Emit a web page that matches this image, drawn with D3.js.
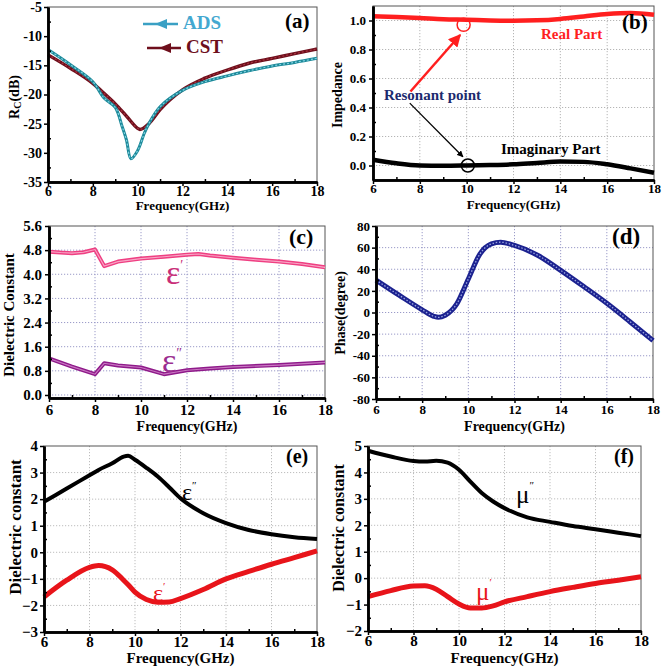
<!DOCTYPE html>
<html><head><meta charset="utf-8">
<script src="https://cdn.jsdelivr.net/npm/d3@7"></script>
<style>body{margin:0;background:#fff}svg{display:block}</style>
</head><body>
<svg id="c" width="662" height="669"></svg>
<script>
// ---------- DATA ----------
const freqTicks = [6, 8, 10, 12, 14, 16, 18];
const freqMinor = [7, 9, 11, 13, 15, 17];

// (a) Reflection coefficient
const adsFreq = [6, 7, 8, 8.5, 9, 9.3, 9.5, 9.7, 10, 10.3, 10.5, 11, 12, 13, 14, 15, 16, 17, 18];
const adsRc   = [-12.3, -14.9, -17.8, -20.6, -22.2, -25.4, -27.8, -31.0, -29.6, -26.6, -25.0, -22.1, -19.3, -17.8, -16.8, -15.9, -15.1, -14.5, -13.8];
const cstFreq = [6, 7, 8, 8.5, 9, 9.5, 10, 10.1, 10.5, 11, 12, 13, 14, 15, 16, 17, 18];
const cstRc   = [-13.2, -15.5, -18.1, -19.8, -21.6, -23.7, -25.8, -26.0, -25.0, -22.6, -19.2, -17.2, -15.8, -14.6, -13.8, -13.0, -12.2];
const ticksA = [-35, -30, -25, -20, -15, -10, -5];

// (b) Impedance
const freqB = [6, 7, 8, 9, 10, 11, 12, 13, 14, 15, 16, 17, 18];
const realZ = [1.030, 1.024, 1.017, 1.009, 1.005, 1.000, 0.998, 1.001, 1.011, 1.028, 1.045, 1.052, 1.040];
const imagZ = [0.040, 0.015, 0.000, -0.002, 0.000, 0.003, 0.008, 0.018, 0.027, 0.025, 0.008, -0.020, -0.050];
const ticksB = [0.0, 0.2, 0.4, 0.6, 0.8, 1.0];
const resonantReal = [9.87, 0.97];
const resonantImag = [10.05, 0.0];

// (c) Dielectric constant (retrieved)
const freqEpsR = [6, 6.5, 7, 7.5, 8, 8.4, 9, 10, 11, 12, 12.5, 13, 14, 15, 16, 17, 18];
const epsRealC = [4.75, 4.72, 4.70, 4.73, 4.82, 4.27, 4.42, 4.52, 4.58, 4.65, 4.67, 4.62, 4.55, 4.48, 4.42, 4.34, 4.23];
const freqEpsI = [6, 7, 8, 8.4, 9, 10, 11, 12, 13, 14, 16, 18];
const epsImagC = [1.21, 0.94, 0.69, 1.05, 0.98, 0.91, 0.69, 0.82, 0.88, 0.93, 0.99, 1.08];
const ticksC = [0.0, 0.8, 1.6, 2.4, 3.2, 4.0, 4.8, 5.6];

// (d) Phase
const freqD = [6, 7, 8, 8.5, 8.7, 9, 9.5, 10, 10.5, 11, 11.4, 12, 13, 14, 15, 16, 17, 18];
const phaseD = [30, 16, 2.5, -3.5, -4.5, -2.5, 8, 31, 54, 63.5, 65, 62, 53, 39, 24, 8.5, -8.5, -26];
const ticksD = [-80, -60, -40, -20, 0, 20, 40, 60, 80];

// (e) permittivity
const freqE = [6, 7, 8, 8.4, 9, 9.5, 9.7, 10, 10.5, 11, 11.5, 12, 13, 14, 15, 16, 17, 18];
const epsImagE = [1.90, 2.40, 2.90, 3.10, 3.35, 3.60, 3.63, 3.48, 3.18, 2.85, 2.45, 2.03, 1.47, 1.10, 0.84, 0.68, 0.57, 0.50];
const epsRealE = [-1.68, -1.05, -0.57, -0.50, -0.66, -1.05, -1.22, -1.50, -1.78, -1.88, -1.87, -1.74, -1.40, -1.00, -0.72, -0.45, -0.20, 0.05];
const ticksE = [-3, -2, -1, 0, 1, 2, 3, 4];

// (f) permeability
const freqF = [6, 7, 8, 8.5, 9, 9.5, 10, 10.5, 11, 11.5, 12, 13, 14, 15, 16, 17, 18];
const muImagF = [4.82, 4.60, 4.43, 4.41, 4.44, 4.37, 4.10, 3.65, 3.22, 2.90, 2.65, 2.30, 2.13, 1.97, 1.85, 1.72, 1.59];
const muRealF = [-0.70, -0.47, -0.30, -0.29, -0.42, -0.70, -0.98, -1.13, -1.13, -1.05, -0.90, -0.70, -0.51, -0.35, -0.20, -0.08, 0.05];
const ticksF = [-2, -1, 0, 1, 2, 3, 4, 5];

// ---------- DRAWING ----------
const svg = d3.select('#c');
const FONT = '"Liberation Serif","Times New Roman",serif';
const zip = (xs, ys) => xs.map((v, i) => [v, ys[i]]);
const hy = v => String(v).replace('\u2212', '-');

function panel(cfg) {
  const g = svg.append('g');
  const x = d3.scaleLinear().domain([6, 18]).range([cfg.l, cfg.r]);
  const y = d3.scaleLinear().domain(cfg.ydom).range([cfg.b, cfg.t]);
  if (cfg.grid) {
    g.append('g').selectAll('line').data(freqTicks.filter(d => d > 6 && d < 18)).join('line')
      .attr('x1', d => x(d)).attr('x2', d => x(d)).attr('y1', cfg.t).attr('y2', cfg.b)
      .attr('stroke', cfg.grid).attr('stroke-width', 1).attr('stroke-dasharray', '1.2,1.8');
    g.append('g').selectAll('line').data(cfg.yticks.filter(d => y(d) > cfg.t + 1 && y(d) < cfg.b - 1)).join('line')
      .attr('y1', d => y(d)).attr('y2', d => y(d)).attr('x1', cfg.l).attr('x2', cfg.r)
      .attr('stroke', cfg.grid).attr('stroke-width', 1).attr('stroke-dasharray', '1.2,1.8');
  }
  g.append('rect').attr('x', cfg.l).attr('y', cfg.t).attr('width', cfg.r - cfg.l).attr('height', cfg.b - cfg.t)
    .attr('fill', 'none').attr('stroke', '#555').attr('stroke-width', 1);
  cfg.series.forEach(s => {
    const line = d3.line().x(d => x(d[0])).y(d => y(d[1])).curve(s.curve || d3.curveMonotoneX);
    const pts = zip(s.xs, s.ys);
    g.append('path').attr('d', line(pts)).attr('fill', 'none').attr('stroke', s.color)
      .attr('stroke-width', s.width).attr('stroke-linejoin', 'round');
    if (s.inner) {
      g.append('path').attr('d', line(pts)).attr('fill', 'none').attr('stroke', s.inner.color)
        .attr('stroke-width', s.inner.width).attr('stroke-dasharray', s.inner.dash || null);
    }
  });
  const fs = cfg.fs || 14;
  const xa = g.append('g').attr('transform', `translate(0,${cfg.b})`)
    .call(d3.axisBottom(x).tickValues(freqTicks).tickSize(4).tickSizeOuter(0).tickPadding(cfg.xpad == null ? 2 : cfg.xpad).tickFormat(d3.format('d')));
  g.append('g').attr('transform', `translate(0,${cfg.b})`)
    .call(d3.axisBottom(x).tickValues(freqMinor).tickSize(-3).tickSizeOuter(0).tickFormat(''));
  const ya = g.append('g').attr('transform', `translate(${cfg.l},0)`)
    .call(d3.axisLeft(y).tickValues(cfg.yticks).tickSize(4).tickSizeOuter(0).tickPadding(cfg.ypad || 2).tickFormat(cfg.yfmt));
  const ym = cfg.yticks.slice(0, -1).map((d, i) => (d + cfg.yticks[i + 1]) / 2);
  g.append('g').attr('transform', `translate(${cfg.l},0)`)
    .call(d3.axisLeft(y).tickValues(ym).tickSize(-3).tickSizeOuter(0).tickFormat(''));
  g.selectAll('.domain').attr('stroke', '#000').attr('stroke-width', 2.5);
  g.selectAll('.tick line').attr('stroke', '#000').attr('stroke-width', 1.5);
  g.selectAll('.tick text').attr('font-family', FONT).attr('font-weight', 'bold').attr('font-size', fs).attr('fill', '#000');
  // titles
  g.append('text').attr('x', (cfg.l + cfg.r) / 2).attr('y', cfg.xtY).attr('text-anchor', 'middle')
    .attr('font-family', FONT).attr('font-weight', 'bold').attr('font-size', cfg.tfs || 13).text('Frequency(GHz)');
  const yt = g.append('text').attr('transform', `translate(${cfg.ytX},${cfg.ytY}) rotate(-90)`)
    .attr('text-anchor', 'middle').attr('dominant-baseline', 'central')
    .attr('font-family', FONT).attr('font-weight', 'bold').attr('font-size', cfg.ytfs || cfg.tfs || 13);
  cfg.ytitle(yt);
  g.append('text').attr('x', cfg.lab[0]).attr('y', cfg.lab[1]).attr('font-family', FONT)
    .attr('font-weight', 'bold').attr('font-size', cfg.lab[2]).text(cfg.name);
  return {g, x, y};
}

// (a)
const A = panel({
  l: 48, r: 317, t: 7, b: 182, ydom: [-35, -5], yticks: ticksA, yfmt: d => hy(d3.format('d')(d)),
  xtY: 210, ytX: 14, ytY: 97, tfs: 13, ytfs: 14, fs: 14, xpad: 0, lab: [285, 28, 21], name: '(a)',
  ytitle: t => { t.append('tspan').text('R'); t.append('tspan').attr('font-size', 10).attr('dy', 3).text('C');
                 t.append('tspan').attr('dy', -3).text('(dB)'); },
  series: [
    {xs: cstFreq, ys: cstRc, color: '#6e0f1c', width: 3.4, inner: {color: '#a8323f', width: 1.2, dash: '2,2'}},
    {xs: adsFreq, ys: adsRc, color: '#1d8a9a', width: 3, inner: {color: '#7fd0e0', width: 1.2, dash: '2,2'}, curve: d3.curveCatmullRom}
  ]
});
// legend (a)
[{txt: 'ADS', col: '#44a8d0', lc: '#3aa0c4', y: 24, x0: 143, x1: 178, tx: 183, by: 29},
 {txt: 'CST', col: '#6e0f1c', lc: '#6e0f1c', y: 48, x0: 147, x1: 181, tx: 186, by: 53}].forEach(o => {
  A.g.append('line').attr('x1', o.x0).attr('x2', o.x1).attr('y1', o.y).attr('y2', o.y).attr('stroke', o.lc).attr('stroke-width', 2.5);
  A.g.append('path').attr('d', `M${o.x0 + 12},${o.y} l12,-5 l0,10 z`).attr('fill', o.lc);
  A.g.append('text').attr('x', o.tx).attr('y', o.by).attr('font-family', FONT).attr('font-weight', 'bold')
    .attr('font-size', 19).attr('fill', o.col).text(o.txt);
});

// (b)
const B = panel({
  l: 373, r: 654, t: 6, b: 180, ydom: [-0.1, 1.1], yticks: ticksB, yfmt: d3.format('.1f'), grid: '#b5b5b5',
  xtY: 209, ytX: 337, ytY: 95, tfs: 13, ytfs: 14, fs: 13, ypad: 3, xpad: 0, lab: [622, 29, 21], name: '(b)',
  ytitle: t => t.text('Impedance'),
  series: [
    {xs: freqB, ys: realZ, color: '#ff1f1f', width: 4.5},
    {xs: freqB, ys: imagZ, color: '#000', width: 4.5}
  ]
});
const defs = svg.append('defs');
[['arR', '#ff1f1f'], ['arK', '#000']].forEach(([id, c]) => {
  defs.append('marker').attr('id', id).attr('viewBox', '0 0 10 10').attr('refX', 9).attr('refY', 5)
    .attr('markerWidth', 5).attr('markerHeight', 5).attr('orient', 'auto')
    .append('path').attr('d', 'M0,0 L10,5 L0,10 z').attr('fill', c);
});
B.g.append('circle').attr('cx', B.x(resonantReal[0])).attr('cy', B.y(resonantReal[1])).attr('r', 6.5)
  .attr('fill', 'none').attr('stroke', '#ff1f1f').attr('stroke-width', 1.5);
B.g.append('circle').attr('cx', B.x(resonantImag[0])).attr('cy', B.y(resonantImag[1])).attr('r', 6.5)
  .attr('fill', 'none').attr('stroke', '#000').attr('stroke-width', 1.5);
B.g.append('line').attr('x1', B.x(7.6)).attr('y1', B.y(0.51)).attr('x2', B.x(9.72)).attr('y2', B.y(0.9))
  .attr('stroke', '#ff1f1f').attr('stroke-width', 2.5).attr('marker-end', 'url(#arR)');
B.g.append('line').attr('x1', B.x(7.57)).attr('y1', B.y(0.43)).attr('x2', B.x(9.84)).attr('y2', B.y(0.06))
  .attr('stroke', '#000').attr('stroke-width', 1.3).attr('marker-end', 'url(#arK)');
[['Real Part', '#ff1f1f', 541, 39], ['Resonant point', '#1c2a6e', 384, 100], ['Imaginary Part', '#000', 501, 154]].forEach(([t, c, xx, yy]) => {
  B.g.append('text').attr('x', xx).attr('y', yy).attr('font-family', FONT).attr('font-weight', 'bold')
    .attr('font-size', 15).attr('fill', c).text(t);
});

// (c)
const C = panel({
  l: 49, r: 325, t: 226, b: 398, ydom: [-0.1, 5.6], yticks: ticksC, yfmt: d3.format('.1f'), grid: '#9a9ac8',
  xtY: 431, ytX: 9, ytY: 315, tfs: 14, ytfs: 15, fs: 15, ypad: 3, lab: [289, 244, 22], name: '(c)',
  ytitle: t => t.text('Dielectric Constant'),
  series: [
    {xs: freqEpsR, ys: epsRealC, color: '#ef3f82', width: 4, inner: {color: '#f8a6c6', width: 1.1}, curve: d3.curveLinear},
    {xs: freqEpsI, ys: epsImagC, color: '#8f1a8a', width: 4, inner: {color: '#c978c2', width: 1.1}, curve: d3.curveLinear}
  ]
});
C.g.append('text').attr('x', 166).attr('y', 284).attr('font-family', FONT).attr('font-size', 34).attr('fill', '#c92e78')
  .text('ε').append('tspan').attr('font-size', 14).attr('dy', -14).text('\u2032');
C.g.append('text').attr('x', 162).attr('y', 372).attr('font-family', FONT).attr('font-size', 34).attr('fill', '#9b2d90')
  .text('ε').append('tspan').attr('font-size', 14).attr('dy', -14).text('\u2033');

// (d)
panel({
  l: 376, r: 653, t: 226, b: 399, ydom: [-80, 80], yticks: ticksD, yfmt: d => hy(d3.format('d')(d)), grid: '#9a9ac8',
  xtY: 431, ytX: 340, ytY: 313, tfs: 14, ytfs: 14, fs: 13, ypad: 2, lab: [612, 244, 23], name: '(d)',
  ytitle: t => t.text('Phase(degree)'),
  series: [
    {xs: freqD, ys: phaseD, color: '#1c2290', width: 5, inner: {color: '#9aa6e0', width: 1.3, dash: '1.5,1.8'}}
  ]
});

// (e)
const E = panel({
  l: 44, r: 317, t: 446, b: 632, ydom: [-3, 4], yticks: ticksE, yfmt: d3.format('d'), grid: '#bdbdbd',
  xtY: 663, ytX: 15, ytY: 527, tfs: 15, ytfs: 17, fs: 15, ypad: 2, xpad: 0, lab: [286, 463, 20], name: '(e)',
  ytitle: t => t.text('Dielectric constant'),
  series: [
    {xs: freqE, ys: epsImagE, color: '#000', width: 4},
    {xs: freqE, ys: epsRealE, color: '#e8141a', width: 5}
  ]
});
E.g.append('text').attr('x', 182).attr('y', 500).attr('font-family', FONT).attr('font-size', 24).attr('fill', '#000')
  .text('ε').append('tspan').attr('font-size', 11).attr('dy', -11).text('\u2033');
E.g.append('text').attr('x', 153).attr('y', 601).attr('font-family', FONT).attr('font-size', 24).attr('fill', '#e8141a')
  .text('ε').append('tspan').attr('font-size', 11).attr('dy', -11).text('\u2032');

// (f)
const F = panel({
  l: 368, r: 641, t: 446, b: 631, ydom: [-2, 5], yticks: ticksF, yfmt: d3.format('d'), grid: '#bdbdbd',
  xtY: 663, ytX: 338, ytY: 528, tfs: 15, ytfs: 16, fs: 15, ypad: 2, xpad: 0, lab: [614, 463, 20], name: '(f)',
  ytitle: t => t.text('Dielectric constant'),
  series: [
    {xs: freqF, ys: muImagF, color: '#000', width: 4},
    {xs: freqF, ys: muRealF, color: '#e8141a', width: 5}
  ]
});
F.g.append('text').attr('x', 516).attr('y', 503).attr('font-family', FONT).attr('font-size', 25).attr('fill', '#000')
  .text('μ').append('tspan').attr('font-size', 11).attr('dy', -14).text('\u2033');
F.g.append('text').attr('x', 476).attr('y', 600).attr('font-family', FONT).attr('font-size', 25).attr('fill', '#e8141a')
  .text('μ').append('tspan').attr('font-size', 11).attr('dy', -14).text('\u2032');
</script>
</body></html>
